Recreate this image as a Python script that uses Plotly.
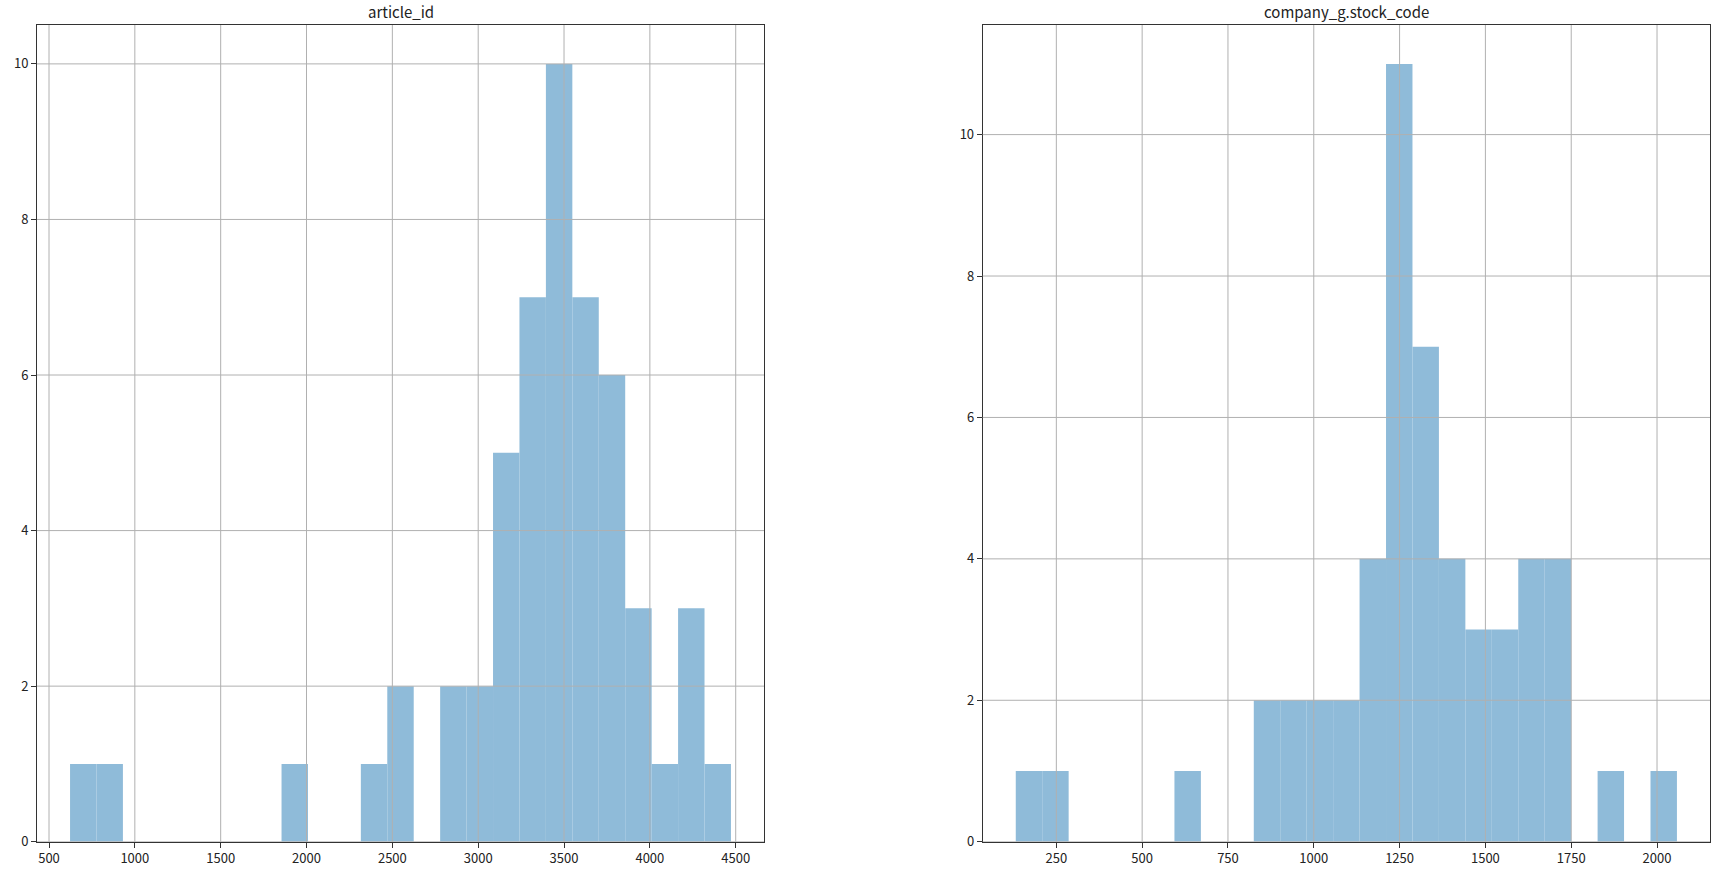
import numpy as np
import plotly.graph_objects as go

# ---- data (25 bins each) ----
titles = ["article_id", "company_g.stock_code"]

article_id_range = [622.6, 4472.3]
article_id_counts = [1, 1, 0, 0, 0, 0, 0, 0, 1, 0, 0, 1, 2, 0, 2, 2, 5, 7, 10, 7, 6, 3, 1, 3, 1]

stock_code_range = [131.8, 2058.0]
stock_code_counts = [1, 1, 0, 0, 0, 0, 1, 0, 0, 2, 2, 2, 2, 4, 11, 7, 4, 3, 3, 4, 4, 0, 1, 0, 1]

article_id_xticks = [500, 1000, 1500, 2000, 2500, 3000, 3500, 4000, 4500]
stock_code_xticks = [250, 500, 750, 1000, 1250, 1500, 1750, 2000]
yticks = [0, 2, 4, 6, 8, 10]

# ---- layout constants ----
W, H = 1724, 876
bar_color = "#8fbbd9"
grid_color = "#b0b0b0"
spine_color = "#333333"
font_family = "Noto Sans CJK JP, Noto Sans, DejaVu Sans, sans-serif"

x_domains = [[37 / W, 764 / W], [982.7 / W, 1710 / W]]
y_domain = [1 - 841.7 / H, 1 - 25 / H]

panels = [
    (article_id_range, article_id_counts, article_id_xticks),
    (stock_code_range, stock_code_counts, stock_code_xticks),
]

fig = go.Figure()
shapes = []
annotations = []

for i, (rng, counts, xticks) in enumerate(panels):
    n = len(counts)
    edges = np.linspace(rng[0], rng[1], n + 1)
    centers = (edges[:-1] + edges[1:]) / 2
    width = edges[1] - edges[0]
    xa = "x" if i == 0 else "x2"
    ya = "y" if i == 0 else "y2"
    fig.add_trace(go.Bar(
        x=centers, y=counts, width=width,
        marker=dict(color=bar_color, line=dict(width=0)),
        xaxis=xa, yaxis=ya, showlegend=False,
        hovertemplate="%{x}: %{y}<extra></extra>",
    ))
    pad = 0.05 * (rng[1] - rng[0])
    xrange = [rng[0] - pad, rng[1] + pad]
    yrange = [0, max(counts) * 1.05]

    axis_common = dict(
        showgrid=False, zeroline=False, showline=True, mirror=True,
        linecolor=spine_color, linewidth=1,
        ticks="outside", ticklen=5, tickwidth=1, tickcolor=spine_color,
        tickfont=dict(family=font_family, size=13, color="#222222"),
        automargin=False,
    )
    key = "" if i == 0 else "2"
    fig.update_layout(**{
        f"xaxis{key}": dict(
            axis_common, domain=x_domains[i], range=xrange,
            tickmode="array", tickvals=xticks, ticktext=[str(t) for t in xticks],
            anchor=ya,
        ),
        f"yaxis{key}": dict(
            axis_common, domain=y_domain, range=yrange,
            tickmode="array", tickvals=yticks, ticktext=[str(t) for t in yticks],
            anchor=xa,
        ),
    })

    # gridlines drawn above the bars (as matplotlib does)
    for t in xticks:
        shapes.append(dict(type="line", xref=xa, yref=f"{ya} domain",
                           x0=t, x1=t, y0=0, y1=1, layer="above",
                           line=dict(color=grid_color, width=1)))
    for t in yticks:
        shapes.append(dict(type="line", xref=f"{xa} domain", yref=ya,
                           x0=0, x1=1, y0=t, y1=t, layer="above",
                           line=dict(color=grid_color, width=1)))

    annotations.append(dict(
        text=titles[i], xref=f"{xa} domain", yref=f"{ya} domain",
        x=0.5, y=1, xanchor="center", yanchor="bottom", yshift=1,
        showarrow=False,
        font=dict(family=font_family, size=15, color="#222222"),
    ))

fig.update_layout(
    width=W, height=H,
    margin=dict(l=0, r=0, t=0, b=0),
    paper_bgcolor="white", plot_bgcolor="white",
    shapes=shapes, annotations=annotations,
    barmode="overlay",
)

fig.write_html(
    "out.html",
    config={"displayModeBar": False},
    post_script="document.body.style.margin='0';document.body.style.overflow='hidden';",
)
